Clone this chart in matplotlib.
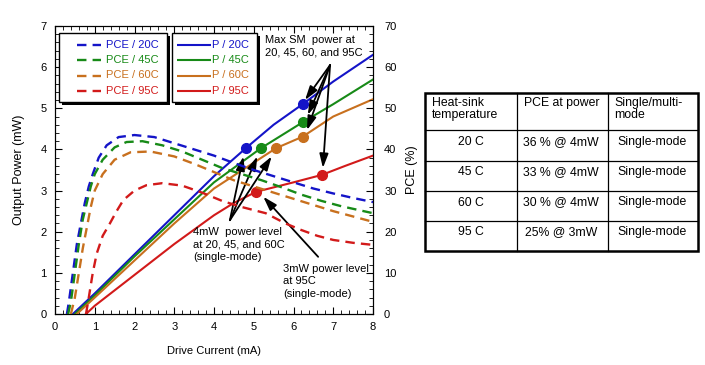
import numpy as np
import matplotlib.pyplot as plt
from matplotlib.ticker import MultipleLocator

plt.rcParams['font.family'] = ['Liberation Sans', 'DejaVu Sans']
plt.rcParams['font.size'] = 8

# === DATA ===
temps = ['20C', '45C', '60C', '95C']
colors = ['#1414c8', '#178a17', '#c8701e', '#d21a1a']

# output power (mW) vs drive current (mA)
p_i = [
    [0.45, 1, 2, 3, 4, 4.8, 5.5, 6.23, 7, 8],
    [0.5, 1, 2, 3, 4, 5.18, 6.23, 7, 8],
    [0.55, 1, 2, 3, 4, 5.56, 6.23, 7, 8],
    [0.78, 1, 2, 3, 4, 4.5, 5.06, 6, 6.71, 7.3, 8],
]
p_mw = [
    [0, 0.5, 1.45, 2.4, 3.35, 4.03, 4.6, 5.1, 5.65, 6.3],
    [0, 0.45, 1.4, 2.3, 3.2, 4.03, 4.66, 5.1, 5.7],
    [0, 0.4, 1.3, 2.2, 3.05, 4.03, 4.31, 4.8, 5.22],
    [0, 0.2, 0.95, 1.7, 2.4, 2.7, 2.97, 3.2, 3.38, 3.6, 3.85],
]

# power conversion efficiency (%) vs drive current (mA)
pce_i = [
    [0.3, 0.35, 0.45, 0.55, 0.65, 0.75, 0.85, 0.95, 1.1, 1.3, 1.6, 2.0, 2.5, 3, 3.5, 4, 4.5, 5, 5.5, 6, 6.5, 7, 7.5, 8],
    [0.33, 0.4, 0.5, 0.6, 0.7, 0.8, 0.9, 1.0, 1.2, 1.5, 1.8, 2.2, 2.7, 3.2, 3.7, 4.2, 4.7, 5.2, 5.7, 6.2, 6.7, 7.2, 8],
    [0.4, 0.5, 0.6, 0.7, 0.8, 0.9, 1.0, 1.2, 1.5, 1.9, 2.4, 3, 3.5, 4, 4.5, 5, 5.5, 6, 6.5, 7, 7.5, 8],
    [0.78, 0.85, 0.95, 1.05, 1.2, 1.38, 1.55, 1.72, 2.0, 2.3, 2.7, 3.2, 3.7, 4.2, 4.7, 5.3, 5.8, 6.2, 6.6, 7, 7.5, 8],
]
pce = [
    [0, 3, 10, 17, 22, 27, 31, 34, 38, 41, 43, 43.5, 43, 41.5, 40, 38.5, 36.7, 35, 33.5, 32, 30.5, 29.3, 28.2, 27.2],
    [0, 3, 10, 17, 23, 27, 31, 34, 37.5, 40.5, 41.8, 42, 41, 39.5, 37.5, 35.5, 34, 32.5, 30.8, 29, 27.5, 26.2, 24.5],
    [0, 4, 10, 16, 21, 26, 30, 34, 37.5, 39.3, 39.5, 38.3, 36.5, 34.5, 32.5, 31, 29.5, 28, 26.5, 25, 23.7, 22.4],
    [0, 4, 10, 14.7, 19, 22, 25, 27.7, 30, 31.3, 31.8, 31.2, 29.5, 27.5, 26, 24.5, 22, 20.4, 19, 18, 17.3, 16.8],
]

# highlighted operating points (current mA, power mW)
pt4_i = [4.8, 5.18, 5.56, 5.06]
pt4_p = [4.03, 4.03, 4.03, 2.97]
ptmax_i = [6.23, 6.23, 6.23, 6.71]
ptmax_p = [5.1, 4.66, 4.31, 3.38]

table_header = ['Heat-sink\ntemperature', 'PCE at power', 'Single/multi-\nmode']
table_temp = ['20 C', '45 C', '60 C', '95 C']
table_pce = ['36 % @ 4mW', '33 % @ 4mW', '30 % @ 4mW', '25% @ 3mW']
table_mode = ['Single-mode', 'Single-mode', 'Single-mode', 'Single-mode']

PCE_DASH = (0, (4, 2.6))

# === FIGURE ===
fig = plt.figure(figsize=(7.05, 3.65), dpi=100)
ax = fig.add_axes([55 / 705, 51 / 365, 318 / 705, 288 / 365])
ax2 = ax.twinx()

for k in range(4):
    ax.plot(p_i[k], p_mw[k], color=colors[k], lw=1.5, zorder=3)
    ax2.plot(pce_i[k], pce[k], color=colors[k], lw=1.7, linestyle=PCE_DASH)

# markers on the power curves
for k in range(4):
    ax.plot(pt4_i[k], pt4_p[k], 'o', color=colors[k], ms=7, zorder=4)
    ax.plot(ptmax_i[k], ptmax_p[k], 'o', color=colors[k], ms=7, zorder=4)

ax.set_xlim(0, 8)
ax.set_ylim(0, 7)
ax2.set_ylim(0, 70)
ax.xaxis.set_major_locator(MultipleLocator(1))
ax.xaxis.set_minor_locator(MultipleLocator(0.2))
ax.yaxis.set_major_locator(MultipleLocator(1))
ax.yaxis.set_minor_locator(MultipleLocator(0.2))
ax2.yaxis.set_major_locator(MultipleLocator(10))
ax2.yaxis.set_minor_locator(MultipleLocator(2))
ax.tick_params(which='both', direction='in', top=True, right=False, labelsize=8, pad=6)
ax.tick_params(which='major', length=5)
ax.tick_params(which='minor', length=3)
ax2.tick_params(which='both', direction='in', labelsize=8, pad=8)
ax2.tick_params(which='major', length=5)
ax2.tick_params(which='minor', length=3)

ax.set_xlabel('Drive Current (mA)', fontsize=8, labelpad=10)
ax.set_ylabel('Output Power (mW)', fontsize=9, labelpad=11)
ax2.set_ylabel('PCE (%)', fontsize=9, labelpad=7)

# annotations
arrow = dict(arrowstyle='-|>,head_length=0.7,head_width=0.22', color='black', lw=1.3,
             mutation_scale=12, shrinkA=0, shrinkB=0)
ax.text(5.28, 6.78, 'Max SM  power at\n20, 45, 60, and 95C', fontsize=8, va='top', ha='left',
        linespacing=1.3, zorder=6)
for tx_, ty_ in [(6.29, 5.2), (6.36, 4.84), (6.34, 4.47), (6.74, 3.55)]:
    ax.annotate('', xy=(tx_, ty_), xytext=(6.92, 6.05), arrowprops=arrow, zorder=6)

ax.text(3.47, 2.11, '4mW  power level\nat 20, 45, and 60C\n(single-mode)', fontsize=8,
        va='top', ha='left', linespacing=1.3, zorder=6)
for tx_, ty_ in [(4.74, 3.83), (5.09, 3.83), (5.45, 3.83)]:
    ax.annotate('', xy=(tx_, ty_), xytext=(4.4, 2.28), arrowprops=arrow, zorder=6)

ax.text(5.74, 1.22, '3mW power level\nat 95C\n(single-mode)', fontsize=8,
        va='top', ha='left', linespacing=1.3, zorder=6, clip_on=False)
ax.annotate('', xy=(5.24, 2.85), xytext=(6.62, 1.39), arrowprops=arrow, zorder=6)

# === OVERLAY (pixel coords): legends + table ===
tx = fig.add_axes([0, 0, 1, 1], facecolor='none')
tx.set_xlim(0, 705)
tx.set_ylim(365, 0)
tx.axis('off')


def legend_box(x0, x1, y0, y1, line_x, text_x, rows, prefix, style):
    tx.add_patch(plt.Rectangle((x0 + 3, y0 + 3), x1 - x0, y1 - y0, color='black', lw=0))
    tx.add_patch(plt.Rectangle((x0, y0), x1 - x0, y1 - y0, facecolor='white',
                               edgecolor='black', lw=1.0))
    for k, yy in enumerate(rows):
        tx.plot(line_x, [yy, yy], color=colors[k], lw=1.7 if style != '-' else 1.5,
                linestyle=style, solid_capstyle='butt')
        tx.text(text_x, yy, prefix + temps[k], color=colors[k], fontsize=8,
                va='center', ha='left')


legend_rows = [44.5, 60, 75.5, 91]
legend_box(59, 167, 33, 102, [77, 101], 106.5, legend_rows, 'PCE / ', PCE_DASH)
legend_box(172, 257, 33, 102, [177, 211], 211.5, legend_rows, 'P / ', '-')

col_x = [425, 516.5, 607.5, 698]
row_y = [92.5, 130, 160.5, 191, 221, 250.5]
for yy in row_y[1:-1]:
    tx.plot([col_x[0], col_x[-1]], [yy, yy], color='black', lw=0.9)
for xx in col_x[1:-1]:
    tx.plot([xx, xx], [row_y[0], row_y[-1]], color='black', lw=0.9)
tx.add_patch(plt.Rectangle((col_x[0], row_y[0]), col_x[-1] - col_x[0], row_y[-1] - row_y[0],
                           fill=False, edgecolor='black', lw=1.8))
for c, h in enumerate(table_header):
    tx.text(col_x[c] + 7, row_y[0] + 4.5, h, fontsize=8.8, va='top', ha='left', linespacing=1.05)
for r in range(4):
    yc = (row_y[r + 1] + row_y[r + 2]) / 2 - 3.5
    tx.text((col_x[0] + col_x[1]) / 2, yc, table_temp[r], fontsize=8.8, ha='center', va='center')
    tx.text((col_x[1] + col_x[2]) / 2 - 1, yc, table_pce[r], fontsize=8.8, ha='center', va='center')
    tx.text((col_x[2] + col_x[3]) / 2 - 1, yc, table_mode[r], fontsize=8.8, ha='center', va='center')

fig.savefig('out.png', dpi=100)
